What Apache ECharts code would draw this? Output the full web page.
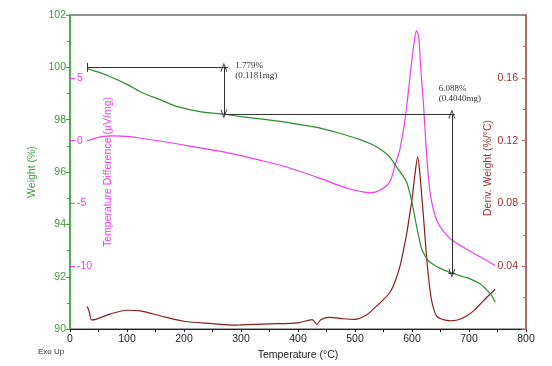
<!DOCTYPE html>
<html>
<head>
<meta charset="utf-8">
<script src="https://cdn.jsdelivr.net/npm/echarts@6/dist/echarts.min.js"></script>
<style>
  html, body { margin: 0; padding: 0; background: #fff; }
  #chart { width: 552px; height: 366px; }
</style>
</head>
<body>
<div id="chart"></div>
<script>
// TG curve (Weight %)
const tgTemp = [31, 34, 50, 70, 100, 128, 160, 187, 230, 270, 300, 345, 380, 421, 439, 470, 509, 530, 544, 560, 570, 581, 591, 600, 608, 617, 623, 629, 640, 649, 667, 690, 702, 720, 731, 740, 746];
const tgWeight = [99.97, 99.92, 99.82, 99.65, 99.35, 99.02, 98.75, 98.51, 98.3, 98.21, 98.12, 98.0, 97.9, 97.75, 97.68, 97.5, 97.24, 97.05, 96.88, 96.6, 96.29, 95.95, 95.59, 94.83, 93.94, 93.05, 92.8, 92.6, 92.43, 92.33, 92.16, 92.0, 91.92, 91.72, 91.5, 91.28, 91.03];

// DTA curve (Temperature Difference)
const dtaTemp = [30, 35, 45, 58, 75, 100, 130, 160, 187, 228, 275, 333, 380, 439, 474, 491, 510, 526, 544, 561, 570, 579, 589, 598, 604, 608, 612, 615, 620, 624, 628, 632, 637, 645, 655, 670, 702, 737, 746];
const dtaValue = [0.0, 0.05, 0.2, 0.34, 0.38, 0.34, 0.15, -0.05, -0.25, -0.58, -0.95, -1.55, -2.1, -3.0, -3.6, -3.85, -4.05, -4.15, -3.95, -3.28, -2.0, -0.63, 2.1, 5.7, 7.9, 8.75, 8.2, 6.0, 3.0, 0.0, -2.5, -4.2, -5.4, -6.5, -7.2, -7.9, -8.8, -9.7, -9.95];

// DTG curve (Deriv. Weight)
const dtgTemp = [30, 33, 38, 45, 70, 100, 123, 158, 200, 250, 290, 300, 350, 400, 425, 433, 440, 455, 480, 500, 520, 532, 545, 561, 570, 579, 586, 591, 596, 600, 605, 610, 614, 620, 627, 634, 643, 655, 667, 680, 696, 708, 720, 731, 746];
const dtgValue = [0.0144, 0.012, 0.0059, 0.0062, 0.0095, 0.012, 0.0116, 0.0085, 0.005, 0.0035, 0.0025, 0.0027, 0.0033, 0.004, 0.006, 0.003, 0.006, 0.0075, 0.0066, 0.0062, 0.009, 0.0127, 0.017, 0.0233, 0.03, 0.0402, 0.052, 0.0614, 0.073, 0.0825, 0.098, 0.1097, 0.098, 0.072, 0.0402, 0.019, 0.0084, 0.006, 0.0053, 0.0058, 0.0084, 0.0116, 0.016, 0.0201, 0.0254];

// 标注
const stepStart = 100.0;
const stepMid = 98.221;
const stepEnd = 92.133;
const notes = [
  { text: '1.779%\n(0.1181mg)', at: [290, 99.89] },
  { text: '6.088%\n(0.4040mg)', at: [647, 99.01] }
];

const pairs = (xs, ys) => xs.map((x, i) => [x, ys[i]]);

const green = '#2e8b2e';
const pink = '#f03cf0';
const brown = '#8b1c1c';
const fs = 10.5;
const vArrow = 'path://M0,10 L5,0 L10,10 L8.6,10 L5,2.6 L1.4,10 Z';

const chart = echarts.init(document.getElementById('chart'));
chart.setOption({
  animation: false,
  backgroundColor: '#fff',
  textStyle: { fontFamily: 'Liberation Sans' },
  grid: { left: 70, right: 26, top: 15, bottom: 36, show: true, borderColor: '#222', borderWidth: 1 },
  xAxis: {
    type: 'value', min: 0, max: 800, interval: 100,
    name: 'Temperature (°C)', nameLocation: 'middle', nameGap: 19,
    nameTextStyle: { color: '#222', fontSize: fs },
    axisLine: { onZero: false, lineStyle: { color: '#222', width: 1 } },
    axisTick: { length: 3, lineStyle: { color: '#222' } },
    minorTick: { show: true, splitNumber: 2, length: 3, lineStyle: { color: '#222' } },
    axisLabel: { color: '#222', fontSize: fs, margin: 5 },
    splitLine: { show: false }
  },
  yAxis: [
    {
      type: 'value', position: 'left', min: 90, max: 102, interval: 2,
      name: 'Weight (%)', nameLocation: 'middle', nameGap: 32,
      nameTextStyle: { color: '#3c9a3c', fontSize: fs },
      axisLine: { show: true, onZero: false, lineStyle: { color: '#4caf4c', width: 2 } },
      axisTick: { length: 4, lineStyle: { color: '#3c9a3c' } },
      minorTick: { show: true, splitNumber: 2, length: 3, lineStyle: { color: '#3c9a3c' } },
      axisLabel: { color: '#3c9a3c', fontSize: fs, margin: 4 },
      splitLine: { show: false }
    },
    {
      type: 'value', position: 'left', min: -15, max: 10, interval: 5,
      axisLine: { show: false, onZero: false },
      axisTick: { show: true, inside: true, length: 5, lineStyle: { color: pink } },
      axisLabel: { inside: true, color: pink, fontSize: fs, margin: 7, showMinLabel: false, showMaxLabel: false },
      splitLine: { show: false }
    },
    {
      type: 'value', position: 'right', min: 0, max: 0.2, interval: 0.04,
      axisLine: { show: true, onZero: false, lineStyle: { color: '#b06a6a', width: 2 } },
      axisTick: { inside: true, length: 4, lineStyle: { color: '#b06a6a' } },
      minorTick: { show: true, splitNumber: 2, length: 3, lineStyle: { color: '#b06a6a' } },
      axisLabel: { inside: true, color: '#a03030', fontSize: fs, margin: 8, showMinLabel: false, showMaxLabel: false,
        formatter: v => v.toFixed(2) },
      splitLine: { show: false }
    }
  ],
  graphic: [
    { type: 'text', left: 38, top: 348, style: { text: 'Exo Up', fontSize: 8, fill: '#333', fontFamily: 'Liberation Sans' } },
    { type: 'text', x: 108, y: 172, rotation: Math.PI / 2,
      style: { text: 'Temperature Difference (μV/mg)', fontSize: fs, fill: pink, fontFamily: 'Liberation Sans', align: 'center', verticalAlign: 'middle' } },
    { type: 'text', x: 488, y: 168, rotation: Math.PI / 2,
      style: { text: 'Deriv. Weight (%/°C)', fontSize: fs, fill: '#a03030', fontFamily: 'Liberation Sans', align: 'center', verticalAlign: 'middle' } }
  ],
  series: [
    {
      name: 'DTG', type: 'line', yAxisIndex: 2, showSymbol: false, smooth: 0.3,
      lineStyle: { color: brown, width: 1.2 },
      data: pairs(dtgTemp, dtgValue)
    },
    {
      name: 'DTA', type: 'line', yAxisIndex: 1, showSymbol: false, smooth: 0.3,
      lineStyle: { color: pink, width: 1.2 },
      data: pairs(dtaTemp, dtaValue)
    },
    {
      name: 'TG', type: 'line', yAxisIndex: 0, showSymbol: false, smooth: 0.3,
      lineStyle: { color: green, width: 1.2 },
      data: pairs(tgTemp, tgWeight),
      markLine: {
        silent: true, symbol: ['none', 'none'],
        label: { show: false },
        lineStyle: { color: '#333', width: 1, type: 'solid' },
        data: [
          [{ coord: [31, stepStart] }, { coord: [277, stepStart] }],
          [{ coord: [31, stepStart - 0.17] }, { coord: [31, stepStart + 0.17] }],
          [{ coord: [270, stepMid] }, { coord: [675, stepMid] }],
          [{ coord: [664, stepEnd] }, { coord: [676, stepEnd] }],
          [{ coord: [270, stepStart], symbol: vArrow, symbolSize: [7, 9] }, { coord: [270, stepMid], symbol: vArrow, symbolSize: [7, 9] }],
          [{ coord: [670, stepMid], symbol: vArrow, symbolSize: [7, 9] }, { coord: [670, stepEnd], symbol: vArrow, symbolSize: [7, 9] }]
        ]
      },
      markPoint: {
        silent: true, symbol: 'circle', symbolSize: 0,
        label: {
          show: true, position: 'right', distance: 0, formatter: p => p.name,
          fontFamily: 'Liberation Serif', fontSize: 9, lineHeight: 10, color: '#333'
        },
        data: notes.map(n => ({ name: n.text, coord: n.at }))
      }
    }
  ]
});
</script>
</body>
</html>
